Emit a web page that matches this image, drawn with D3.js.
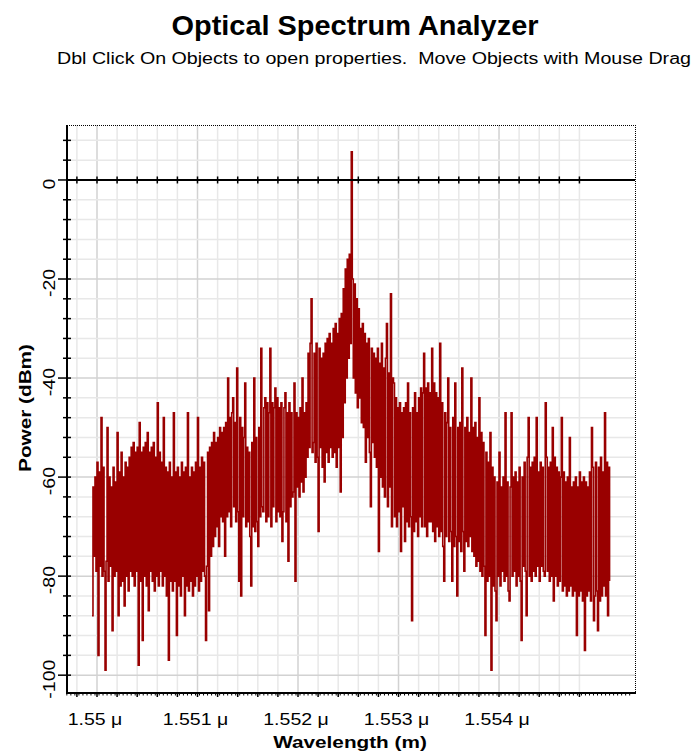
<!DOCTYPE html>
<html>
<head>
<meta charset="utf-8">
<script src="https://cdn.jsdelivr.net/npm/d3@7"></script>
<style>
  html, body { margin: 0; padding: 0; background: #fff; }
  svg { display: block; font-family: "Liberation Sans", Arial, sans-serif; }
</style>
</head>
<body>
<svg id="chart" width="696" height="756"></svg>
<script>
// Spectrum samples (dBm), first sample at startWavelength (µm), spaced by stepWavelength (µm)
const startWavelength = 1.54995;
const stepWavelength = 0.00001;
const powerDbm = [
  -88, -62, -76, -60, -79, -57, -96, -59, -78, -48,
  -80, -58, -79, -99, -77, -50, -81, -60, -78, -62,
  -91, -58, -80, -61, -79, -51, -88, -59, -82, -55,
  -81, -60, -86, -57, -80, -58, -83, -56, -79, -54,
  -80, -53, -82, -55, -79, -54, -98, -49, -81, -55,
  -93, -54, -80, -53, -82, -51, -87, -55, -79, -54,
  -81, -53, -83, -56, -80, -45, -82, -55, -79, -57,
  -82, -48, -80, -58, -84, -59, -97, -57, -81, -60,
  -83, -47, -81, -59, -92, -58, -82, -60, -84, -57,
  -80, -59, -88, -58, -82, -47, -83, -60, -81, -58,
  -84, -59, -82, -57, -80, -48, -83, -58, -81, -56,
  -79, -57, -80, -93, -78, -55, -87, -54, -76, -53,
  -74, -51, -72, -53, -70, -52, -74, -50, -68, -51,
  -69, -50, -76, -49, -68, -40, -67, -48, -70, -47,
  -44, -66, -49, -69, -38, -67, -81, -48, -84, -50,
  -68, -52, -41, -70, -54, -69, -55, -72, -82, -53,
  -70, -40, -71, -52, -69, -74, -50, -68, -34, -66,
  -67, -46, -44, -69, -45, -68, -47, -34, -70, -45,
  -66, -46, -42, -69, -44, -67, -46, -68, -45, -73,
  -67, -46, -43, -69, -47, -77, -45, -66, -47, -64,
  -63, -41, -81, -47, -62, -48, -64, -46, -61, -40,
  -63, -47, -60, -45, -56, -35, -54, -33, -24, -55,
  -53, -35, -57, -33, -56, -71, -34, -54, -36, -58,
  -35, -61, -33, -55, -32, -57, -31, -54, -33, -56,
  -30, -55, -29, -58, -31, -54, -28, -63, -27, -52,
  -22, -45, -18, -40, -16, -36, -15, -33, 5.7, -20,
  -40, -21, -43, -24, -46, -26, -44, -30, -49, -29,
  -50, -31, -57, -33, -52, -32, -55, -66, -34, -53,
  -35, -56, -36, -58, -34, -75, -37, -60, -33, -62,
  -38, -64, -36, -29, -66, -39, -62, -23, -70, -40,
  -41, -68, -44, -70, -46, -67, -45, -75, -47, -66,
  -46, -73, -45, -69, -41, -70, -47, -68, -89, -46,
  -71, -43, -69, -47, -72, -44, -68, -42, -70, -43,
  -35, -70, -42, -72, -41, -69, -43, -69, -34, -71,
  -41, -73, -43, -70, -44, -72, -33, -71, -45, -74,
  -81, -47, -72, -49, -40, -73, -50, -71, -81, -48,
  -74, -41, -72, -84, -50, -73, -49, -75, -38, -71,
  -79, -50, -73, -48, -74, -51, -72, -40, -75, -50,
  -76, -49, -78, -52, -77, -44, -79, -51, -80, -53,
  -78, -92, -55, -81, -57, -80, -51, -99, -58, -82,
  -60, -83, -89, -61, -80, -55, -82, -62, -79, -60,
  -81, -47, -80, -61, -83, -85, -62, -47, -80, -60,
  -79, -59, -82, -61, -80, -58, -81, -93, -60, -78,
  -57, -79, -88, -56, -48, -80, -58, -81, -57, -79,
  -56, -80, -48, -78, -59, -81, -57, -78, -58, -79,
  -80, -45, -56, -79, -58, -81, -57, -80, -50, -85,
  -56, -80, -58, -82, -59, -81, -60, -48, -83, -59,
  -82, -61, -84, -60, -83, -52, -82, -62, -84, -61,
  -83, -60, -92, -62, -84, -59, -83, -61, -85, -60,
  -95, -61, -84, -62, -83, -59, -85, -50, -58, -89,
  -84, -57, -83, -91, -58, -85, -56, -84, -59, -82,
  -47, -84, -57, -88, -58, -81
];

// Axis ranges and tick values
const wavelengthRange = [1.5497015, 1.555353];   // µm
const powerRange = [11.1, -103.6];                // dBm
const xLabelTicks = [1.550, 1.551, 1.552, 1.553, 1.554];
const yLabelTicks = [0, -20, -40, -60, -80, -100];

const titleText = "Optical Spectrum Analyzer";
const subtitleText = "Dbl Click On Objects to open properties.  Move Objects with Mouse Drag";
const xTitle = "Wavelength (m)";
const yTitle = "Power (dBm)";

const plot = { left: 67, right: 635, top: 125, bottom: 693 };
const svg = d3.select("#chart");

const x = d3.scaleLinear().domain(wavelengthRange).range([plot.left, plot.right]);
const y = d3.scaleLinear().domain(powerRange).range([plot.top, plot.bottom]);

// wider glyph run, as drawn by the analyzer's own text renderer
function widen(sel, k) {
  sel.each(function () {
    const w = this.getComputedTextLength();
    this.setAttribute("textLength", w * k);
    this.setAttribute("lengthAdjust", "spacingAndGlyphs");
  });
}

// Grid
const minorX = d3.range(0, 26).map(i => 1.5498 + i * 0.0002);
const minorY = d3.range(8, -101, -4);
const isMajorX = v => Math.abs(v * 1000 - Math.round(v * 1000)) < 1e-6;
const grid = svg.append("g");
grid.selectAll("line.gx").data(minorX).join("line")
  .attr("x1", d => x(d)).attr("x2", d => x(d))
  .attr("y1", plot.top).attr("y2", plot.bottom)
  .attr("stroke", d => isMajorX(d) ? "#d2d2d2" : "#e8e8e8")
  .attr("stroke-width", 1.5);
grid.selectAll("line.gy").data(minorY).join("line")
  .attr("x1", plot.left).attr("x2", plot.right)
  .attr("y1", d => y(d)).attr("y2", d => y(d))
  .attr("stroke", d => d % 20 === 0 ? "#d2d2d2" : "#e8e8e8")
  .attr("stroke-width", 1.5);

// Spectrum trace, drawn as vertical steps between samples
const line = d3.line()
  .x((d, i) => x(startWavelength + i * stepWavelength))
  .y(d => y(d))
  .curve(d3.curveStepAfter);
svg.append("path")
  .datum(powerDbm)
  .attr("d", line)
  .attr("fill", "none")
  .attr("stroke", "#990000")
  .attr("stroke-width", 1.6)
  .attr("stroke-linejoin", "miter");

// Dotted frame on the top and right
svg.append("line")
  .attr("x1", plot.left).attr("x2", plot.right)
  .attr("y1", plot.top + 0.5).attr("y2", plot.top + 0.5)
  .attr("stroke", "#000").attr("stroke-width", 1).attr("stroke-dasharray", "1,1");
svg.append("line")
  .attr("x1", plot.right + 0.5).attr("x2", plot.right + 0.5)
  .attr("y1", plot.top).attr("y2", plot.bottom)
  .attr("stroke", "#000").attr("stroke-width", 1).attr("stroke-dasharray", "1,1");

// Zero-dBm crossing axis with ticks
svg.append("line")
  .attr("x1", plot.left).attr("x2", plot.right)
  .attr("y1", y(0)).attr("y2", y(0))
  .attr("stroke", "#000").attr("stroke-width", 2);
svg.append("g").selectAll("line").data(minorX).join("line")
  .attr("x1", d => x(d)).attr("x2", d => x(d))
  .attr("y1", y(0) - 3.5).attr("y2", y(0) + 3.5)
  .attr("stroke", "#000").attr("stroke-width", 1.5);

// Bottom wavelength axis
const fineX = d3.range(0, 141).map(i => 1.5497 + i * 0.00004).filter(v => x(v) <= plot.right);
svg.append("g").selectAll("line").data(fineX).join("line")
  .attr("x1", d => x(d)).attr("x2", d => x(d))
  .attr("y1", plot.bottom).attr("y2", plot.bottom + 2.5)
  .attr("stroke", "#000").attr("stroke-width", 1);
svg.append("g").selectAll("line").data(minorX).join("line")
  .attr("x1", d => x(d)).attr("x2", d => x(d))
  .attr("y1", plot.bottom).attr("y2", plot.bottom + 4)
  .attr("stroke", "#000").attr("stroke-width", 1.5);
svg.append("line")
  .attr("x1", plot.left).attr("x2", plot.right + 1)
  .attr("y1", plot.bottom).attr("y2", plot.bottom)
  .attr("stroke", "#000").attr("stroke-width", 2);

// Left power axis
svg.append("g").selectAll("line").data(minorY).join("line")
  .attr("x1", d => d % 20 === 0 ? plot.left - 9 : plot.left - 4)
  .attr("x2", plot.left + 4)
  .attr("y1", d => y(d)).attr("y2", d => y(d))
  .attr("stroke", "#000").attr("stroke-width", 1.5);
svg.append("line")
  .attr("x1", plot.left).attr("x2", plot.left)
  .attr("y1", plot.top).attr("y2", plot.bottom + 1)
  .attr("stroke", "#000").attr("stroke-width", 2);

// Tick labels
const xLabels = svg.append("g").selectAll("text").data(xLabelTicks).join("text")
  .attr("x", d => x(d) - 2)
  .attr("y", 725)
  .attr("text-anchor", "middle")
  .attr("font-size", 16)
  .attr("fill", "#000")
  .text(d => `${+d.toFixed(3)} \u03bc`);
widen(xLabels, 1.22);

const yLabels = svg.append("g").selectAll("text").data(yLabelTicks).join("text")
  .attr("transform", d => `translate(55,${y(d) + 4}) rotate(-90)`)
  .attr("text-anchor", "middle")
  .attr("font-size", 16)
  .attr("fill", "#000")
  .text(d => d);
widen(yLabels, 1.22);

// Axis titles
const xt = svg.append("text")
  .attr("x", 350).attr("y", 748)
  .attr("text-anchor", "middle")
  .attr("font-size", 17).attr("font-weight", "bold")
  .text(xTitle);
widen(xt, 1.22);

const yt = svg.append("text")
  .attr("transform", "translate(31,408) rotate(-90)")
  .attr("text-anchor", "middle")
  .attr("font-size", 17).attr("font-weight", "bold")
  .text(yTitle);
widen(yt, 1.22);

// Title and hint line
svg.append("text")
  .attr("x", 355).attr("y", 35)
  .attr("text-anchor", "middle")
  .attr("font-size", 28).attr("font-weight", "bold")
  .attr("textLength", 367).attr("lengthAdjust", "spacingAndGlyphs")
  .text(titleText);
svg.append("text")
  .attr("x", 57).attr("y", 64)
  .attr("font-size", 16)
  .style("white-space", "pre")
  .attr("textLength", 634).attr("lengthAdjust", "spacingAndGlyphs")
  .text(subtitleText);
</script>
</body>
</html>
